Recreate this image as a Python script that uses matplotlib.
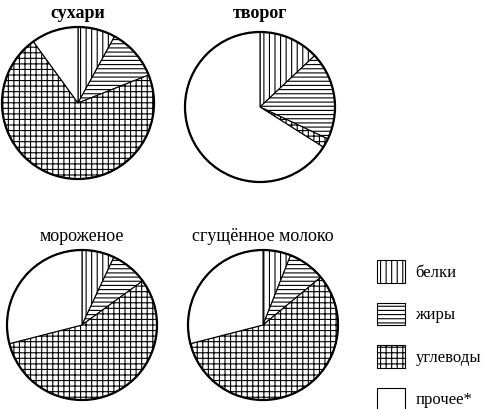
import matplotlib.pyplot as plt
from matplotlib.patches import Patch

plt.rcParams["font.family"] = ["Liberation Serif", "DejaVu Serif"]
plt.rcParams["hatch.linewidth"] = 0.8

COMPONENTS = ["белки", "жиры", "углеводы", "прочее*"]
HATCHES = ["|||", "----", "+++", ""]

TITLES = ["сухари", "творог", "мороженое", "сгущённое молоко"]
SHARES = {
    "сухари": [8, 11, 71, 10],
    "творог": [13, 19, 2, 66],
    "мороженое": [7, 8, 56, 29],
    "сгущённое молоко": [6, 8, 57, 29],
}

W, H = 494, 409
# pie centres and radii in pixels
PIE_POS = [(78, 103, 76), (260, 107, 75), (82, 325, 75), (263, 325, 75)]
TITLE_Y = [14, 14, 237, 237]

fig = plt.figure(figsize=(W / 100, H / 100), dpi=100)

for title, (cx, cy, r), ty in zip(TITLES, PIE_POS, TITLE_Y):
    ax = fig.add_axes([(cx - r - 2) / W, 1 - (cy + r + 2) / H, (2 * r + 4) / W, (2 * r + 4) / H])
    wedges, _ = ax.pie(
        SHARES[title],
        startangle=90,
        counterclock=False,
        colors=["white"] * 4,
        wedgeprops=dict(edgecolor="black", linewidth=0.8),
        radius=r / (r + 2),
    )
    for w, h in zip(wedges, HATCHES):
        w.set_hatch(h)
    ax.pie([1], radius=r / (r + 2), colors=["none"], wedgeprops=dict(edgecolor="black", linewidth=1.6))
    ax.set_xlim(-1, 1)
    ax.set_ylim(-1, 1)
    ax.axis("off")
    fig.text(cx / W, 1 - ty / H, title, ha="center", va="center", fontsize=13,
             fontweight="bold" if ty < 100 else "normal")

handles = [Patch(facecolor="white", edgecolor="black", hatch=h, linewidth=0.8) for h in HATCHES]
fig.legend(handles, COMPONENTS, loc="upper left", bbox_to_anchor=(362 / W, 1 - 245 / H),
           frameon=False, fontsize=12, handlelength=1.7, handleheight=1.7,
           labelspacing=1.2, handletextpad=0.6)

fig.savefig("out.png", dpi=100)
